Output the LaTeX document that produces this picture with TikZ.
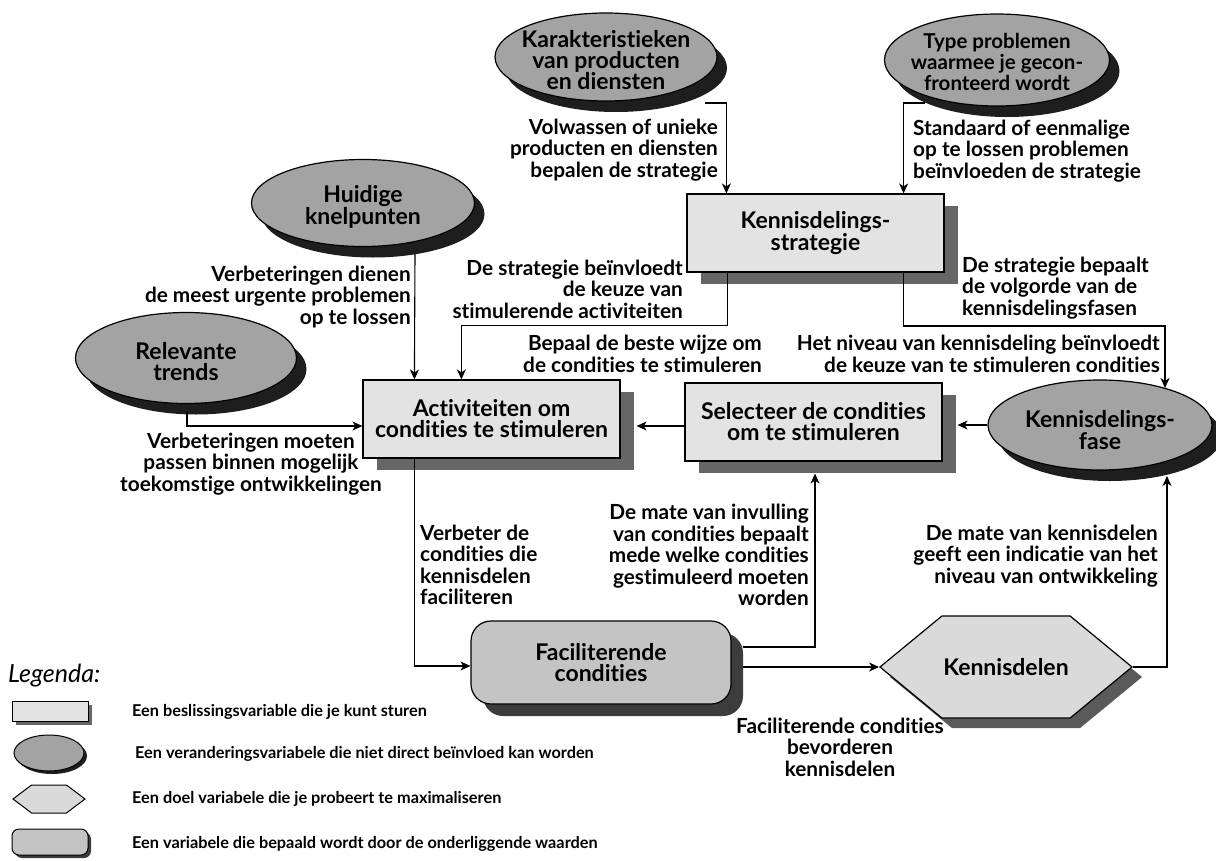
\documentclass[tikz,border=0pt]{standalone}
\usepackage{fontspec}
\setmainfont{Lato}[Ligatures={NoCommon,NoContextual}]
\usetikzlibrary{calc,arrows.meta,shapes.geometric,shapes.symbols,shadows}
\definecolor{rectfill}{HTML}{E3E3E3}
\definecolor{rectshadow}{HTML}{666666}
\definecolor{ellfill}{HTML}{A3A3A3}
\definecolor{ellshadow}{HTML}{1E1E1E}
\definecolor{hexfill}{HTML}{DADADA}
\definecolor{hexshadow}{HTML}{5A5A5A}
\definecolor{rndfill}{HTML}{C4C4C4}
\definecolor{rndshadow}{HTML}{3C3C3C}
\tikzset{
  base/.style={draw=black, line width=1.2pt, align=center, inner sep=0pt,
    font=\fontsize{23}{21}\selectfont\bfseries},
  decision/.style={base, rectangle, fill=rectfill, minimum width=257pt, minimum height=78pt,
    drop shadow={shadow xshift=14pt, shadow yshift=-12pt, fill=rectshadow, opacity=1}},
  changevar/.style={base, ellipse, fill=ellfill,
    drop shadow={shadow xshift=10pt, shadow yshift=-11pt, fill=ellshadow, opacity=1}},
  goalvar/.style={base, signal, signal to=east and west, signal pointer angle=79, fill=hexfill,
    drop shadow={shadow xshift=10pt, shadow yshift=-10pt, fill=hexshadow, opacity=1}},
  resultvar/.style={base, rectangle, rounded corners=20pt, fill=rndfill,
    drop shadow={shadow xshift=12pt, shadow yshift=-12pt, fill=rndshadow, opacity=1}},
  ntext/.style={align=center, inner sep=0pt, font=\fontsize{23}{21}\selectfont\bfseries},
  lbl/.style={inner sep=0pt, font=\fontsize{20.8}{21.5}\selectfont\bfseries},
  legtext/.style={inner sep=0pt, anchor=west, font=\fontsize{16.3}{18}\selectfont\bfseries},
  arr/.style={-{Stealth[length=10pt,width=9pt,inset=3pt]}, line width=1.1pt},
}
\begin{document}
\begin{tikzpicture}[x=1pt,y=-1pt]
\useasboundingbox (0,0) rectangle (1216,860);

% variable nodes (ellipses)
\node[changevar, minimum width=222pt, minimum height=88pt] (kar) at (606,57) {};
\node[ntext] (kart) at (606,60) {Karakteristieken\\van producten\\en diensten};
\node[changevar, minimum width=225pt, minimum height=92pt] (typ) at (997,60) {};
\node[ntext, font=\fontsize{20.5}{21}\selectfont\bfseries] (typt) at (997,62) {Type problemen\\waarmee je gecon-\\fronteerd wordt};
\node[changevar, minimum width=223pt, minimum height=87pt] (hk) at (363,203) {};
\node[ntext] (hkt) at (363,207) {Huidige\\knelpunten};
\node[changevar, minimum width=221pt, minimum height=91pt] (rt) at (186,358) {};
\node[ntext] (rtt) at (186,362) {Relevante\\trends};
\node[changevar, minimum width=224pt, minimum height=90pt] (kfase) at (1100,425) {};
\node[ntext] (kfaset) at (1100,430) {Kennisdelings-\\fase};

% decision nodes
\node[decision] (strat) at (815.5,233) {Kennisdelings-\\strategie};
\node[decision] (act) at (491.5,419) {Activiteiten om\\condities te stimuleren};
\node[decision] (sel) at (813.5,422) {Selecteer de condities\\om te stimuleren};

% result and goal
\node[resultvar, minimum width=260pt, minimum height=83pt] (fac) at (601,662.5) {Faciliterende\\condities};
\node[goalvar, minimum width=252pt, minimum height=102pt] (ken) at (1006,667) {Kennisdelen};

% connectors
\draw[arr] ($(kar.center)+(99,46)$) -| ($(strat.north west)+(40,0)$);
\draw[arr] ($(typ.center)+(-72,43)$) -| ($(strat.north east)+(-41,0)$);
\draw[arr] ($(hk.center)+(52,51)$) -- ($(act.north west)+(52,0)$);
\draw[arr] ($(strat.south west)+(41,0)$) |- ($(act.north west)+(99,-54)$) -- ($(act.north west)+(99,0)$);
\draw[arr] ($(strat.south east)+(-41,0)$) |- ($(kfase.center)+(65,-99)$) -- ($(kfase.center)+(65,-37)$);
\draw[arr] ($(rt.center)+(1,54)$) |- ($(act.west)+(0,7)$);
\draw[arr] ($(sel.west)+(0,4)$) -- ($(act.east)+(16,7)$);
\draw[arr] (kfase.west) -- ($(sel.east)+(15,3)$);
\draw[arr] ($(act.south west)+(52,0)$) |- ($(fac.west)+(0,3.5)$);
\draw[arr] ($(fac.east)+(11,-15.5)$) -| ($(sel.south)+(1.5,12)$);
\draw[arr] ($(fac.east)+(11,4.5)$) -- (ken.west);
\draw[arr] (ken.east) -| ($(kfase.center)+(67,51)$);

% connector labels
\node[lbl, align=right, anchor=east] (l1) at (718,150) {Volwassen of unieke\\producten en diensten\\bepalen de strategie};
\node[lbl, align=left, anchor=west] (l2) at (913,151) {Standaard of eenmalige\\op te lossen problemen\\beïnvloeden de strategie};
\node[lbl, align=right, anchor=east] (l3) at (411,297) {Verbeteringen dienen\\de meest urgente problemen\\op te lossen};
\node[lbl, align=right, anchor=east] (l4) at (683,289) {De strategie beïnvloedt\\de keuze van\\stimulerende activiteiten};
\node[lbl, align=left, anchor=west] (l5) at (962,288) {De strategie bepaalt\\de volgorde van de\\kennisdelingsfasen};
\node[lbl, align=right, anchor=east] (l6) at (762,354) {Bepaal de beste wijze om\\de condities te stimuleren};
\node[lbl, align=right, anchor=east] (l7) at (1160,354) {Het niveau van kennisdeling beïnvloedt\\de keuze van te stimuleren condities};
\node[lbl, align=center] (l8) at (251,464) {Verbeteringen moeten\\passen binnen mogelijk\\toekomstige ontwikkelingen};
\node[lbl, align=left, anchor=west] (l9) at (420,565) {Verbeter de\\condities die\\kennisdelen\\faciliteren};
\node[lbl, align=right, anchor=east] (l10) at (809,555) {De mate van invulling\\van condities bepaalt\\mede welke condities\\gestimuleerd moeten\\worden};
\node[lbl, align=right, anchor=east] (l11) at (1158,556) {De mate van kennisdelen\\geeft een indicatie van het\\niveau van ontwikkeling};
\node[lbl, align=center] (l12) at (840,747) {Faciliterende condities\\bevorderen\\kennisdelen};

% legend
\node[inner sep=0pt, anchor=west, font=\fontsize{25}{26}\selectfont\itshape] (leg) at (8,676) {Legenda:};
\node[rectangle, draw=black, line width=1pt, fill=rectfill, minimum width=76pt, minimum height=20pt,
  drop shadow={shadow xshift=4pt, shadow yshift=-4pt, fill=rectshadow, opacity=1}] (lg1) at (50,711) {};
\node[ellipse, draw=black, line width=1pt, fill=ellfill, minimum width=70pt, minimum height=36pt, inner sep=0pt,
  drop shadow={shadow xshift=3pt, shadow yshift=-3pt, fill=ellshadow, opacity=1}] (lg2) at (49,753) {};
\node[signal, signal to=east and west, signal pointer angle=74, draw=black, line width=1pt, fill=hexfill,
  minimum width=72pt, minimum height=28pt, inner sep=0pt] (lg3) at (49,799) {};
\node[rectangle, rounded corners=7pt, draw=black, line width=1pt, fill=rndfill, minimum width=76pt, minimum height=26pt,
  drop shadow={shadow xshift=3pt, shadow yshift=-3pt, fill=rndshadow, opacity=1}] (lg4) at (50,842) {};
\node[legtext] (lt1) at (132,712) {Een beslissingsvariable die je kunt sturen};
\node[legtext] (lt2) at (135,754) {Een veranderingsvariabele die niet direct beïnvloed kan worden};
\node[legtext] (lt3) at (132,799) {Een doel variabele die je probeert te maximaliseren};
\node[legtext] (lt4) at (132,844) {Een variabele die bepaald wordt door de onderliggende waarden};
\end{tikzpicture}
\end{document}
